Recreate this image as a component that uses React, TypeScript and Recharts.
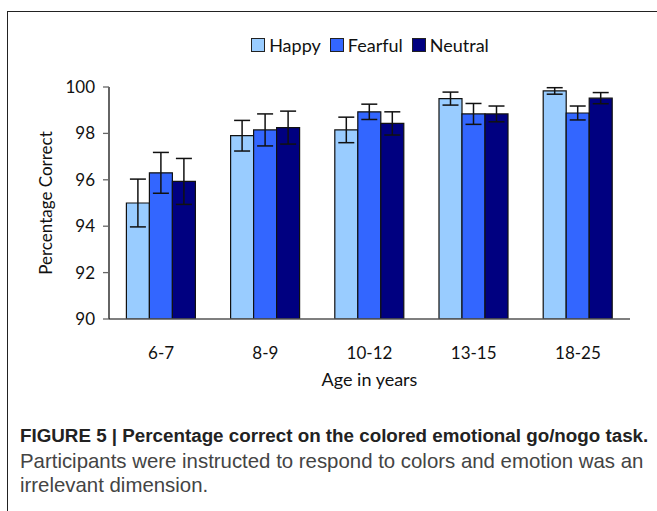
import { BarChart, Bar, XAxis, YAxis, Legend, ErrorBar } from "recharts";

const ageGroups = ["6-7", "8-9", "10-12", "13-15", "18-25"];
const happy = [95.0, 97.9, 98.15, 99.5, 99.83];
const happyErr = [1.03, 0.66, 0.55, 0.28, 0.14];
const fearful = [96.3, 98.15, 98.93, 98.84, 98.88];
const fearfulErr = [0.88, 0.69, 0.33, 0.45, 0.3];
const neutral = [95.93, 98.25, 98.43, 98.84, 99.52];
const neutralErr = [0.99, 0.71, 0.5, 0.34, 0.24];
const yTicks = [90, 92, 94, 96, 98, 100];

const series = [
  { key: "Happy", color: "#99ccff" },
  { key: "Fearful", color: "#3366ff" },
  { key: "Neutral", color: "#000080" },
];

const data = ageGroups.map((age, i) => ({
  age,
  Happy: happy[i],
  HappyErr: happyErr[i],
  Fearful: fearful[i],
  FearfulErr: fearfulErr[i],
  Neutral: neutral[i],
  NeutralErr: neutralErr[i],
}));

const font = "Lato, 'Open Sans', sans-serif";

const LegendBox = () => (
  <div style={{ display: "flex", justifyContent: "center", gap: 9, fontFamily: font, fontSize: 18, color: "#111", lineHeight: "24px" }}>
    {series.map((s) => (
      <span key={s.key} style={{ display: "flex", alignItems: "center", gap: 4 }}>
        <span style={{ width: 12, height: 12, background: s.color, border: "1px solid #222", display: "inline-block" }} />
        {s.key}
      </span>
    ))}
  </div>
);

export default function App() {
  return (
    <div style={{ position: "absolute", left: 0, top: 0, width: 657, height: 511, background: "#fff", overflow: "hidden" }}>
      <div style={{ position: "absolute", left: 7, top: 11, width: 660, height: 510, borderTop: "1.5px solid #222", borderLeft: "1.5px solid #222" }} />
      <div style={{ position: "absolute", left: 0, top: 0 }}>
        <BarChart
          width={657}
          height={400}
          data={data}
          margin={{ top: 63, right: 27, left: 30, bottom: 0 }}
          barCategoryGap="16.7%"
          barGap={0}
        >
          <Legend
            verticalAlign="top"
            content={() => <LegendBox />}
            wrapperStyle={{ position: "absolute", top: 33, left: 100, width: 540, height: 24 }}
          />
          <XAxis
            dataKey="age"
            tickLine={false}
            axisLine={{ stroke: "#555", strokeWidth: 1.3 }}
            tick={{ fontSize: 17, fill: "#111", fontFamily: font }}
            tickMargin={22}
            height={81}
            label={{ value: "Age in years", position: "insideBottom", offset: 14, fontSize: 18, fill: "#111", fontFamily: font }}
          />
          <YAxis
            domain={[90, 100]}
            ticks={yTicks}
            width={79}
            allowDataOverflow
            axisLine={{ stroke: "#111", strokeWidth: 1.3 }}
            tickLine={{ stroke: "#666", strokeWidth: 1.3 }}
            tickSize={6}
            tickMargin={8}
            tick={{ fontSize: 17, fill: "#111", fontFamily: font }}
            label={{ value: "Percentage Correct", angle: -90, position: "insideLeft", offset: 16, fontSize: 17, fill: "#111", fontFamily: font, style: { textAnchor: "middle" } }}
          />
          {series.map((s) => (
            <Bar key={s.key} dataKey={s.key} fill={s.color} stroke="#111" strokeWidth={1.2} isAnimationActive={false}>
              <ErrorBar dataKey={`${s.key}Err`} width={8} stroke="#111" strokeWidth={1.5} />
            </Bar>
          ))}
        </BarChart>
      </div>
      <div style={{ position: "absolute", left: 20, top: 424, width: 650, fontFamily: "'Liberation Sans Narrow', 'Liberation Sans', sans-serif", fontSize: 20.4, lineHeight: "24.5px", color: "#444", whiteSpace: "nowrap" }}>
        <div style={{ fontWeight: "bold", color: "#222", fontSize: 18.8 }}>FIGURE 5 | Percentage correct on the colored emotional go/nogo task.</div>
        <div>Participants were instructed to respond to colors and emotion was an</div>
        <div>irrelevant dimension.</div>
      </div>
    </div>
  );
}
